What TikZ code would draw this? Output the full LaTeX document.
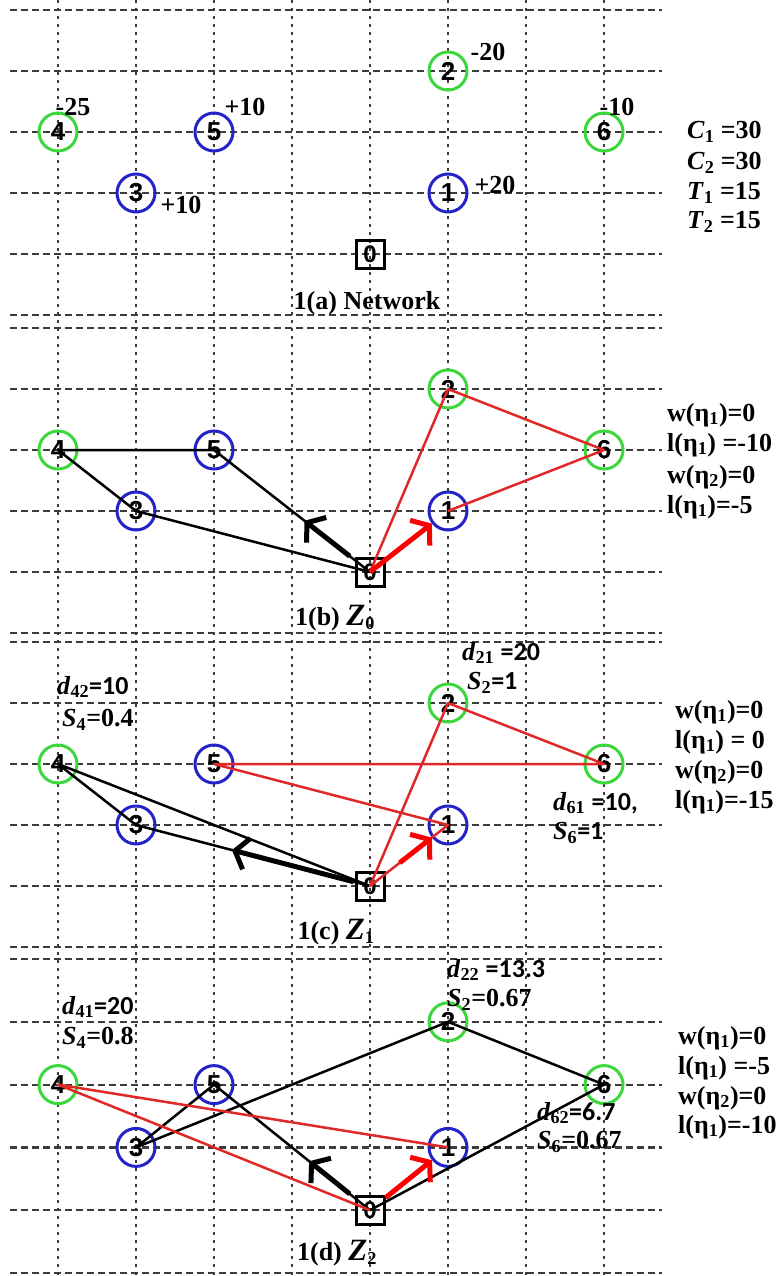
\documentclass[tikz,border=0pt]{standalone}
\usepackage{fontspec}
\setmainfont{Liberation Serif}
\setsansfont{Liberation Sans}
\newfontfamily\calfont{Carlito}
\usetikzlibrary{positioning, arrows.meta, calc}
\definecolor{gridgray}{RGB}{60,60,60}
\definecolor{nodegreen}{RGB}{60,215,60}
\definecolor{nodeblue}{RGB}{35,35,200}
\definecolor{edgered}{RGB}{225,40,40}
\definecolor{arrred}{RGB}{250,0,0}

\newcommand\ivar[2]{\textit{#1}\textsubscript{#2}}
\newcommand\etaof[1]{η\textsubscript{#1}}
\newcommand\zcap[1]{{\fontsize{31}{31}\selectfont\textit{Z}}\textsubscript{#1}}

% one panel of nodes: prefix, top line, row step
\newcommand\netnodes[3]{
  \node[sinkbox] (#10) at (370,{#2+4*#3}) {0};
  \node[bnode] (#11) at (448,{#2+3*#3}) {1};
  \node[gnode] (#12) at (448,{#2+#3}) {2};
  \node[bnode] (#13) at (136,{#2+3*#3}) {3};
  \node[gnode] (#14) at (58,{#2+2*#3}) {4};
  \node[bnode] (#15) at (214,{#2+2*#3}) {5};
  \node[gnode] (#16) at (604,{#2+2*#3}) {6};
}
% dashed rows of one panel: top line, row step
\newcommand\gridrows[2]{
  \foreach \k in {0,...,5}
    \draw[hline] (10,{#1+\k*#2}) -- (662,{#1+\k*#2});
}

\tikzset{
  hline/.style={gridgray, line width=2.2pt, dash pattern=on 7pt off 4pt},
  vline/.style={gridgray, line width=2.2pt, dash pattern=on 3pt off 5pt},
  gnode/.style={circle, draw=nodegreen, line width=3pt, minimum size=38pt, inner sep=0pt,
    font=\sffamily\bfseries\fontsize{26}{26}\selectfont},
  bnode/.style={gnode, draw=nodeblue},
  sinkbox/.style={rectangle, draw=black, line width=3pt, minimum size=28pt, inner sep=0pt,
    font=\sffamily\bfseries\fontsize{24}{24}\selectfont},
  blk/.style={black, line width=2.5pt, line join=round},
  redge/.style={edgered, line width=2.5pt, line join=round},
  blkarr/.style={black, line width=5pt, -{Straight Barb[length=12pt,width=32pt]}},
  redarr/.style={arrred, line width=5pt, -{Straight Barb[length=12pt,width=32pt]}},
  lbl/.style={font=\bfseries\fontsize{26}{30}\selectfont, inner sep=0pt},
  side/.style={lbl, anchor=west},
}

\begin{document}
\begin{tikzpicture}[x=1pt, y=-1pt]
 \useasboundingbox (0,0) rectangle (777,1276);
 % grid
 \foreach \c in {0,...,7}
   \draw[vline] ({58+78*\c},0) -- ({58+78*\c},1276);
 \gridrows{10}{61}
 \gridrows{328}{61}
 \gridrows{642}{61}
 \gridrows{959}{62.8}

 % 1(a)
 \netnodes{a}{10}{61}
 \node[lbl] (wa2) at (488,52) {-20};
 \node[lbl] (wa4) at (73,107) {-25};
 \node[lbl] (wa5) at (245,107) {+10};
 \node[lbl] (wa3) at (181,205) {+10};
 \node[lbl] (wa6) at (617,107) {-10};
 \node[lbl] (wa1) at (495,185) {+20};
 \node[lbl] (capa) at (367,303) {1(a) Network};
 \node[side] (ca1) at (687,132) {\ivar{C}{1} =30};
 \node[side] (ca2) at (687,163) {\ivar{C}{2} =30};
 \node[side] (ta1) at (687,193) {\ivar{T}{1} =15};
 \node[side] (ta2) at (687,222) {\ivar{T}{2} =15};

 % 1(b)
 \netnodes{b}{328}{61}
 \draw[blk] (b5.center) -- (b4.center) -- (b3.center) -- (b0.center) -- (b5.center);
 \draw[redge] (b0.center) -- (b2.center) -- (b6.center) -- (b1.center);
 \draw[blkarr] ($(b0)!0.13!(b5)$) -- ($(b0)!0.42!(b5)$);
 \draw[redarr] (b0.center) -- (b1);
 \node[lbl] (capb) at (335,618) {1(b) \zcap{0}};
 \node[side] (wb1) at (667,415) {w(\etaof{1})=0};
 \node[side] (lb1) at (667,445) {l(\etaof{1}) =-10};
 \node[side] (wb2) at (667,477) {w(\etaof{2})=0};
 \node[side] (lb2) at (667,507) {l(\etaof{1})=-5};

 % 1(c)
 \netnodes{c}{642}{61}
 \draw[blk] (c0.center) -- (c3.center) -- (c4.center) -- (c0.center);
 \draw[redge] (c5.center) -- (c6.center) -- (c2.center) -- (c0.center) -- (c1.center) -- (c5.center);
 \draw[blkarr] ($(c0)!0.07!(c3)$) -- ($(c0)!0.59!(c3)$);
 \draw[redarr] ($(c0)!0.38!(c1)$) -- (c1);
 \node[side] (dc42) at (57,687) {\ivar{d}{42}{\calfont=10}};
 \node[side] (sc4) at (62,720) {\ivar{S}{4}=0.4};
 \node[side] (dc21) at (462,653) {\ivar{d}{21} {\calfont=20}};
 \node[side] (sc2) at (467,683) {\ivar{S}{2}{\calfont=1}};
 \node[side] (dc61) at (553,803) {\ivar{d}{61} {\calfont=10,}};
 \node[side] (sc6) at (553,833) {\ivar{S}{6}{\calfont=1}};
 \node[lbl] (capc) at (336,932) {1(c) \zcap{1}};
 \node[side] (wc1) at (675,712) {w(\etaof{1})=0};
 \node[side] (lc1) at (675,742) {l(\etaof{1}) = 0};
 \node[side] (wc2) at (675,772) {w(\etaof{2})=0};
 \node[side] (lc2) at (675,802) {l(\etaof{1})=-15};

 % 1(d)
 \netnodes{d}{959}{62.8}
 \draw[blk] (d0.center) -- (d5.center) -- (d3.center) -- (d2.center) -- (d6.center) -- (d0.center);
 \draw[redge] (d1.center) -- (d4.center) -- (d0.center);
 \draw[blkarr] ($(d0)!0.13!(d5)$) -- ($(d0)!0.39!(d5)$);
 \draw[redarr] ($(d0)!0.2!(d1)$) -- (d1);
 \node[side] (dd41) at (62,1007) {\ivar{d}{41}{\calfont=20}};
 \node[side] (sd4) at (62,1038) {\ivar{S}{4}=0.8};
 \node[side] (dd22) at (447,970) {\ivar{d}{22} {\calfont=13.3}};
 \node[side] (sd2) at (447,1000) {\ivar{S}{2}=0.67};
 \node[side] (dd62) at (537,1113) {\ivar{d}{62}{\calfont=6.7}};
 \node[side] (sd6) at (537,1142) {\ivar{S}{6}=0.67};
 \node[lbl] (capd) at (337,1253) {1(d) \zcap{2}};
 \node[side] (wd1) at (678,1038) {w(\etaof{1})=0};
 \node[side] (ld1) at (678,1068) {l(\etaof{1}) =-5};
 \node[side] (wd2) at (678,1098) {w(\etaof{2})=0};
 \node[side] (ld2) at (678,1127) {l(\etaof{1})=-10};
\end{tikzpicture}
\end{document}
